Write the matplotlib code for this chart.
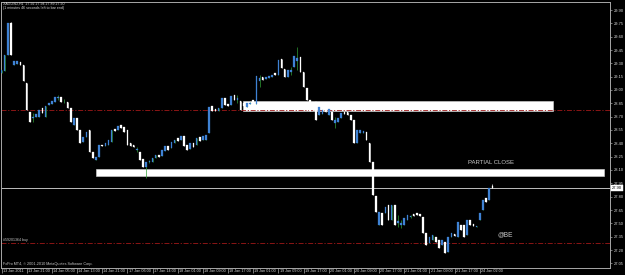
import matplotlib
matplotlib.use("Agg")
import matplotlib.pyplot as plt
from matplotlib.patches import Rectangle
from matplotlib.transforms import ScaledTranslation
import numpy as np

plt.rcParams['font.family'] = ['Liberation Sans', 'DejaVu Sans']

# ---------------- data (XAGUSD H1 candles) ----------------
opens = [29.19, 29.21, 29.39, 29.75, 29.28, 29.29, 29.31, 29.28, 29.08, 28.75,
         28.68, 28.70, 28.70, 28.80, 28.70, 28.83, 28.84, 28.86, 28.91, 28.92,
         28.86, 28.86, 28.80, 28.61, 28.68, 28.55, 28.41, 28.47, 28.55, 28.30,
         28.21, 28.25, 28.38, 28.37, 28.38, 28.41, 28.56, 28.55, 28.61, 28.58,
         28.55, 28.40, 28.38, 28.32, 28.30, 28.22, 28.13, 28.19, 28.19, 28.235,
         28.27, 28.26, 28.31, 28.37, 28.35, 28.40, 28.46, 28.44, 28.48, 28.38,
         28.34, 28.40, 28.38, 28.47, 28.44, 28.44, 28.52, 28.82, 28.79, 28.76,
         28.80, 28.91, 28.84, 28.83, 28.94, 28.89, 28.88, 28.85, 28.81, 28.845,
         28.89, 28.84, 29.10, 29.15, 29.12, 29.13, 29.15, 29.19, 29.17, 29.35,
         29.24, 29.15, 29.20, 29.26, 29.33, 29.37, 29.20, 29.02, 28.89, 28.84,
         28.86, 28.72, 28.73, 28.79, 28.72, 28.75, 28.63, 28.64, 28.68, 28.75,
         28.75, 28.72, 28.66, 28.40, 28.52, 28.52, 28.53, 28.40, 28.19, 27.81,
         27.48, 27.62, 27.62, 27.71, 27.54, 27.71, 27.50, 27.48, 27.48, 27.54,
         27.57, 27.60, 27.62, 27.60, 27.57, 27.39, 27.28, 27.31, 27.35, 27.31,
         27.26, 27.29, 27.18, 27.35, 27.38, 27.35, 27.48, 27.48, 27.37, 27.54,
         27.49, 27.46, 27.54, 27.65, 27.78, 27.76, 27.92]
closes = [29.22, 29.39, 29.75, 29.39, 29.33, 29.33, 29.28, 29.10, 28.77, 28.64,
          28.70, 28.73, 28.77, 28.74, 28.82, 28.85, 28.88, 28.92, 28.92, 28.87,
          28.87, 28.80, 28.64, 28.68, 28.55, 28.40, 28.47, 28.53, 28.30, 28.24,
          28.25, 28.38, 28.37, 28.40, 28.44, 28.55, 28.54, 28.60, 28.57, 28.53,
          28.38, 28.37, 28.36, 28.34, 28.21, 28.13, 28.19, 28.20, 28.235, 28.27,
          28.25, 28.33, 28.37, 28.33, 28.41, 28.44, 28.43, 28.48, 28.37, 28.33,
          28.40, 28.36, 28.46, 28.43, 28.48, 28.49, 28.81, 28.76, 28.76, 28.80,
          28.91, 28.83, 28.82, 28.93, 28.89, 28.91, 28.77, 28.82, 28.85, 28.855,
          28.84, 29.16, 29.13, 29.11, 29.15, 29.16, 29.17, 29.17, 29.34, 29.25,
          29.15, 29.22, 29.23, 29.38, 29.36, 29.20, 29.03, 28.89, 28.76, 28.77,
          28.66, 28.81, 28.77, 28.75, 28.79, 28.66, 28.66, 28.68, 28.74, 28.73,
          28.72, 28.66, 28.40, 28.55, 28.55, 28.54, 28.44, 28.19, 27.82, 27.63,
          27.63, 27.48, 27.68, 27.54, 27.71, 27.48, 27.53, 27.50, 27.56, 27.59,
          27.58, 27.58, 27.59, 27.58, 27.39, 27.26, 27.35, 27.37, 27.29, 27.22,
          27.31, 27.17, 27.35, 27.39, 27.36, 27.52, 27.43, 27.35, 27.54, 27.48,
          27.47, 27.47, 27.62, 27.76, 27.74, 27.90, 27.90]
highs = [29.22, 29.39, 29.75, 29.76, 29.33, 29.33, 29.31, 29.28, 29.08, 28.75,
         28.74, 28.73, 28.77, 28.80, 28.82, 28.85, 28.88, 28.92, 28.94, 28.92,
         28.90, 28.86, 28.80, 28.68, 28.68, 28.55, 28.47, 28.53, 28.55, 28.30,
         28.25, 28.38, 28.38, 28.40, 28.44, 28.55, 28.56, 28.60, 28.61, 28.58,
         28.55, 28.40, 28.38, 28.36, 28.30, 28.22, 28.19, 28.21, 28.235, 28.27,
         28.27, 28.33, 28.37, 28.37, 28.41, 28.44, 28.46, 28.48, 28.48, 28.38,
         28.40, 28.40, 28.46, 28.47, 28.48, 28.49, 28.81, 28.82, 28.79, 28.80,
         28.91, 28.91, 28.84, 28.93, 28.94, 28.94, 28.88, 28.85, 28.85, 28.865,
         28.89, 29.16, 29.17, 29.15, 29.15, 29.16, 29.17, 29.19, 29.34, 29.35,
         29.24, 29.22, 29.26, 29.38, 29.48, 29.37, 29.20, 29.02, 28.89, 28.84,
         28.86, 28.81, 28.77, 28.79, 28.79, 28.75, 28.70, 28.68, 28.74, 28.75,
         28.75, 28.72, 28.66, 28.55, 28.55, 28.54, 28.53, 28.40, 28.19, 27.81,
         27.63, 27.62, 27.68, 27.71, 27.71, 27.71, 27.59, 27.54, 27.56, 27.59,
         27.59, 27.60, 27.62, 27.60, 27.57, 27.39, 27.35, 27.37, 27.35, 27.31,
         27.31, 27.29, 27.35, 27.39, 27.38, 27.52, 27.48, 27.48, 27.54, 27.54,
         27.49, 27.47, 27.62, 27.76, 27.78, 27.90, 27.94]
lows = [29.19, 29.21, 29.39, 29.39, 29.28, 29.29, 29.28, 29.10, 28.77, 28.64,
        28.64, 28.70, 28.70, 28.74, 28.70, 28.83, 28.84, 28.86, 28.89, 28.86,
        28.85, 28.80, 28.64, 28.61, 28.55, 28.40, 28.41, 28.47, 28.30, 28.24,
        28.21, 28.25, 28.37, 28.37, 28.38, 28.41, 28.54, 28.55, 28.57, 28.53,
        28.38, 28.37, 28.36, 28.30, 28.21, 28.13, 28.01, 28.18, 28.19, 28.235,
        28.25, 28.26, 28.31, 28.33, 28.35, 28.40, 28.43, 28.44, 28.37, 28.33,
        28.34, 28.36, 28.38, 28.43, 28.44, 28.44, 28.52, 28.76, 28.76, 28.76,
        28.80, 28.83, 28.82, 28.83, 28.89, 28.85, 28.77, 28.82, 28.81, 28.84,
        28.84, 28.84, 29.03, 29.11, 29.12, 29.13, 29.15, 29.17, 29.17, 29.25,
        29.15, 29.15, 29.17, 29.26, 29.22, 29.20, 29.03, 28.89, 28.76, 28.77,
        28.66, 28.72, 28.73, 28.75, 28.72, 28.66, 28.57, 28.64, 28.68, 28.73,
        28.72, 28.66, 28.40, 28.40, 28.52, 28.52, 28.44, 28.19, 27.82, 27.63,
        27.48, 27.48, 27.62, 27.54, 27.54, 27.48, 27.46, 27.45, 27.48, 27.54,
        27.56, 27.58, 27.59, 27.58, 27.39, 27.26, 27.28, 27.31, 27.29, 27.22,
        27.26, 27.17, 27.18, 27.35, 27.36, 27.35, 27.43, 27.35, 27.37, 27.48,
        27.47, 27.46, 27.54, 27.65, 27.74, 27.76, 27.90]

time_labels = ["13 Jan 2011", "13 Jan 21:00", "14 Jan 05:00", "14 Jan 13:00",
               "14 Jan 21:00", "17 Jan 06:00", "17 Jan 14:00", "18 Jan 01:00",
               "18 Jan 09:00", "18 Jan 17:00", "19 Jan 01:00", "19 Jan 09:00",
               "19 Jan 17:00", "20 Jan 01:00", "20 Jan 09:00", "20 Jan 17:00",
               "21 Jan 01:00", "21 Jan 09:00", "21 Jan 17:00", "24 Jan 02:00"]
label_every = 8

price_ticks = [27.05, 27.20, 27.35, 27.50, 27.65, 27.80, 27.95, 28.10, 28.25,
               28.40, 28.55, 28.70, 28.85, 29.00, 29.15, 29.30, 29.45, 29.60,
               29.75, 29.90]

# zones (start bar, end bar, low price, high price)
zone_start = [76.7, 30.0]
zone_end = [175.3, 191.5]
zone_low = [28.764, 28.033]
zone_high = [28.876, 28.108]

order_levels = [28.773, 27.283]
bid_price = 27.90

header_lines = ["XAGUSD,H1  27.92 27.94 27.89 27.90",
                "(1 minutes 46 seconds left to bar end)"]
copyright_text = "FxPro MT4, \u00a9 2001-2010 MetaQuotes Software Corp."
order_label = "#59201364 buy"

# ---------------- figure ----------------
W, H = 625, 275
fig = plt.figure(figsize=(W / 100, H / 100), dpi=100, facecolor='black')
ax = fig.add_axes([1 / W, 7 / H, 609 / W, 266 / H])
ax.set_facecolor('black')

n = len(opens)
x = np.arange(n)
o = np.array(opens); c = np.array(closes)
hi = np.array(highs); lo = np.array(lows)
bull = c >= o

BLUE = '#3f82d4'
GREEN = '#2f9e34'
WHITE = '#ffffff'

# zones (drawn as background objects)
for s, e, l, h in zip(zone_start, zone_end, zone_low, zone_high):
    ax.add_patch(Rectangle((s, l), e - s, h - l, facecolor='white',
                           edgecolor='#d8d8d8', linewidth=0.4, zorder=1))

# order lines
for lv in order_levels:
    ax.axhline(lv, color='#a01818', lw=0.6, ls=(0, (6, 2, 1.5, 2)), zorder=2)
# bid line
ax.axhline(bid_price, color='#bdbdbd', lw=0.7, zorder=2)

# wicks
wick_colors = [GREEN if b else WHITE for b in bull]
ax.vlines(x, lo, hi, colors=wick_colors, lw=0.5, zorder=3)
# bodies
body_colors = [BLUE if b else WHITE for b in bull]
ax.bar(x, np.abs(c - o), bottom=np.minimum(o, c), width=0.52,
       color=body_colors, edgecolor=body_colors, linewidth=0.2, zorder=4)

ax.set_xlim(-0.16, 193.4)
ax.set_ylim(26.9975, 29.99)

# axes styling
for sp in ax.spines.values():
    sp.set_color('#a8a8a8')
    sp.set_linewidth(0.7)

ax.yaxis.tick_right()
ax.set_yticks(price_ticks)
ax.set_yticklabels([f"{p:.2f}" for p in price_ticks])
ax.tick_params(axis='y', colors='#a8a8a8', labelcolor='#d8d8d8', length=1.5,
               width=0.5, labelsize=2.9, pad=1)

tick_pos = [i * label_every for i in range(len(time_labels))]
ax.set_xticks(tick_pos)
ax.set_xticklabels(time_labels)
ax.tick_params(axis='x', colors='#a8a8a8', labelcolor='#d8d8d8', length=3.5,
               width=0.5, labelsize=2.7, pad=-2.6)
offset = ScaledTranslation(1.2 / 100, 0, fig.dpi_scale_trans)
for lab in ax.get_xticklabels():
    lab.set_horizontalalignment('left')
    lab.set_transform(lab.get_transform() + offset)

# texts
fig.text(3 / W, 1 - 3.5 / H, header_lines[0], color='#d8d8d8', fontsize=2.6,
         ha='left', va='center')
fig.text(3 / W, 1 - 8 / H, header_lines[1], color='#d8d8d8', fontsize=2.6,
         ha='left', va='center')
fig.text(3 / W, 1 - 264.5 / H, copyright_text, color='#c8c8c8', fontsize=2.7,
         ha='left', va='center')

ax.text(148.2, 28.18, "PARTIAL CLOSE", color='#c8c8c8', fontsize=4.3,
        ha='left', va='center', zorder=5)
ax.text(157.6, 27.37, "@BE", color='#c8c8c8', fontsize=4.8,
        ha='left', va='center', zorder=5)
ax.text(0.004, 27.31, order_label, color='#c8c8c8', fontsize=2.6,
        ha='left', va='center', transform=ax.get_yaxis_transform(), zorder=5)

# bid price box on right scale
ax.annotate(f"{bid_price:.2f}", xy=(1.0, bid_price),
            xycoords=ax.get_yaxis_transform(), xytext=(1.6, 0),
            textcoords='offset points', ha='left', va='center',
            fontsize=2.9, color='black', annotation_clip=False,
            bbox=dict(boxstyle='square,pad=0.25', fc='white', ec='white', lw=0.3))

fig.savefig('out.png', dpi=100, facecolor='black')
